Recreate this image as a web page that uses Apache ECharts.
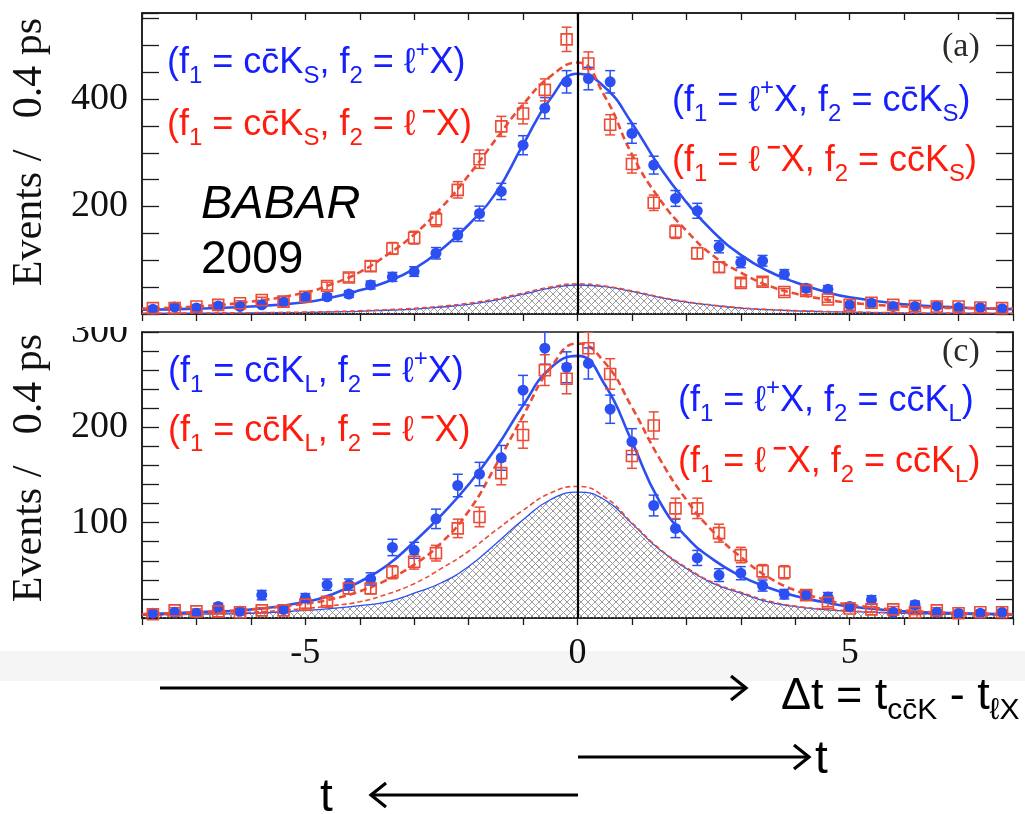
<!DOCTYPE html>
<html><head><meta charset="utf-8">
<script src="https://cdn.jsdelivr.net/npm/echarts@6/dist/echarts.min.js"></script>
<style>html,body{margin:0;padding:0;background:#fff}#c{width:1025px;height:814px}</style>
</head><body><div id="c"></div>
<script>
// ---------- data ----------
const binCenters = [-7.8,-7.4,-7.0,-6.6,-6.2,-5.8,-5.4,-5.0,-4.6,-4.2,-3.8,-3.4,-3.0,-2.6,-2.2,-1.8,-1.4,-1.0,-0.6,-0.2,
                     0.2,0.6,1.0,1.4,1.8,2.2,2.6,3.0,3.4,3.8,4.2,4.6,5.0,5.4,5.8,6.2,6.6,7.0,7.4,7.8];
// panel (a): ccbar K_S
const aBlue    = [9,13,11,15,14,17,22,31,32,37,54,69,79,113,147,187,228,314,383,432, 438,432,336,277,215,192,125,96,99,74,48,46,17,20,14,14,15,12,12,10];
const aBlueErr = [3,3.6,3.3,3.9,3.7,4.1,4.7,5.6,5.7,6.1,7.3,8.3,8.9,10.6,12.1,13.7,15.1,17.7,19.6,20.8, 20.9,20.8,18.3,16.6,14.7,13.9,11.2,9.8,9.9,8.6,6.9,6.8,4.1,4.5,3.7,3.7,3.9,3.5,3.5,3.2];
const aRed     = [11,11,14,17,20,26,23,32,52,68,89,122,142,176,231,288,349,373,417,511, 466,352,279,207,153,113,87,58,60,41,43,27,17,21,17,15,14,14,12,11];
const aRedErr  = [3.3,3.3,3.7,4.1,4.5,5.1,4.8,5.7,7.2,8.2,9.4,11,11.9,13.3,15.2,17,18.7,19.3,20.4,22.6, 21.6,18.8,16.7,14.4,12.4,10.6,9.3,7.6,7.7,6.4,6.6,5.2,4.1,4.6,4.1,3.9,3.7,3.7,3.5,3.3];
const fitX     = [-8,-7,-6,-5,-4.5,-4,-3.5,-3,-2.5,-2,-1.5,-1,-0.5,0,0.5,1,1.5,2,2.5,3,3.5,4,4.5,5,6,7,8];
const aBlueFit = [8,10,14,22,31,44,60,84,120,166,225,315,400,447,422,355,275,208,152,110,80,59,43,31,18,12,9];
const aRedFit  = [10,14,23,40,56,78,110,148,198,258,325,390,442,468,405,297,215,155,108,77,53,38,28,21,14,11,10];
const aBkgBlue = [1,1.5,2,3,4,5,7,9,13,18,26,37,48,54,51,42,31,22,16,11,8,6,4.5,3.5,2,1.5,1];
const aBkgRed  = [1.2,1.8,2.4,3.5,4.5,6,8,10.5,14.5,20,28,39,50,56,52,43,32,23,16.5,11.5,8.5,6.3,4.8,3.7,2.2,1.6,1.1];
// panel (c): ccbar K_L
const cBlue    = [5,6,5,12,7,24,9,21,35,35,41,74,71,104,139,151,168,239,283,263, 267,219,185,118,94,63,45,47,34,25,24,22,12,19,6,14,6,5,5,6];
const cBlueErr = [2.2,2.4,2.2,3.5,2.6,4.9,3,4.6,5.9,5.9,6.4,8.6,8.4,10.2,11.8,12.3,13,15.5,16.8,16.2, 16.3,14.8,13.6,10.9,9.7,7.9,6.7,6.9,5.8,5,4.9,4.7,3.5,4.4,2.4,3.7,2.4,2.2,2.2,2.4];
const cRed     = [4,8,7,7,6,8,8,14,17,31,31,48,59,68,94,106,152,192,260,251, 283,256,170,202,115,115,89,66,49,48,24,16,10,9,9,6,8,5,6,6];
const cRedErr  = [2,2.8,2.6,2.6,2.4,2.8,2.8,3.7,4.1,5.6,5.6,6.9,7.7,8.2,9.7,10.3,12.3,13.9,16.1,15.8, 16.8,16,13,14.2,10.7,10.7,9.4,8.1,7,6.9,4.9,4,3.2,3,3,2.4,2.8,2.2,2.4,2.4];
const cBlueFit = [4,6,9,17,25,38,55,80,108,140,178,223,262,275,245,185,123,85,61,44,32,23,17,12,7,5,4];
const cRedFit  = [4,6,9,15,20,28,40,56,79,112,160,212,262,288,268,221,168,124,90,64,43,29,20,14,8,5,4];
const cBkgBlue = [3,4,5,8,10,13,17,26,37,54,78,103,124,132,124,99,72,52,36,26,17,12,9,7,5,4,3];
const cBkgRed  = [3,4,6,10,13,17,25,36,52,70,92,113,131,138,127,100,73,53,37,27,18,12.5,9.5,7.5,5.2,4,3];
// tick labels
const yTicksA = [200, 400];
const yTicksC = [100, 200, 300];
const xTickLabels = [-5, 0, 5];

// ---------- styles ----------
const SANS = "'Liberation Sans', Arial, 'DejaVu Sans', sans-serif";
const SERIF = "'Liberation Serif', 'Times New Roman', 'DejaVu Serif', serif";
const NARROW = "'Liberation Sans Narrow', 'Liberation Sans', 'DejaVu Sans', sans-serif";
const BLUE_TXT = '#1620ff', RED_TXT = '#ff1c0c';
const BLUE = '#2b4ff0', RED = '#ec4c36';
const AX = '#1a1a1a';

function hatch() {
  const c = document.createElement('canvas'); c.width = 7; c.height = 7;
  const g = c.getContext('2d');
  g.strokeStyle = '#8a8a8a'; g.lineWidth = 0.85;
  g.beginPath(); g.moveTo(0, 0); g.lineTo(7, 7); g.moveTo(7, 0); g.lineTo(0, 7); g.stroke();
  return c;
}
const HATCH = hatch();
const zip = (xs, ys) => xs.map((x, i) => [x, ys[i]]);

function errSeries(xi, yi, vals, errs, color) {
  return {
    type: 'custom', xAxisIndex: xi, yAxisIndex: yi, z: 4, silent: true, clip: true,
    data: binCenters.map((x, i) => [x, vals[i], errs[i]]),
    encode: { x: 0, y: 1 },
    renderItem(params, api) {
      const x = api.value(0), v = api.value(1), e = api.value(2);
      const hi = api.coord([x, v + e]), lo = api.coord([x, v - e]), w = 5;
      const st = { stroke: color, lineWidth: 1.5 };
      return { type: 'group', children: [
        { type: 'line', shape: { x1: hi[0], y1: hi[1], x2: lo[0], y2: lo[1] }, style: st },
        { type: 'line', shape: { x1: hi[0] - w, y1: hi[1], x2: hi[0] + w, y2: hi[1] }, style: st },
        { type: 'line', shape: { x1: lo[0] - w, y1: lo[1], x2: lo[0] + w, y2: lo[1] }, style: st }
      ]};
    }
  };
}
function panelSeries(xi, yi, blue, blueErr, red, redErr, blueFit, redFit, bkgB, bkgR) {
  return [
    { type: 'line', xAxisIndex: xi, yAxisIndex: yi, data: zip(fitX, bkgB), smooth: 0.5,
      symbol: 'none', z: 1, silent: true, lineStyle: { color: BLUE, width: 1.3 },
      areaStyle: { color: { image: HATCH, repeat: 'repeat' }, opacity: 1 } },
    { type: 'line', xAxisIndex: xi, yAxisIndex: yi, data: zip(fitX, bkgR), smooth: 0.5,
      symbol: 'none', z: 2, silent: true, lineStyle: { color: RED, width: 1.6, type: [5, 3] } },
    { type: 'line', xAxisIndex: xi, yAxisIndex: yi, data: zip(fitX, blueFit), smooth: 0.5,
      symbol: 'none', z: 3, silent: true, lineStyle: { color: BLUE, width: 2.6 },
      markLine: { silent: true, symbol: 'none', label: { show: false },
        lineStyle: { color: '#000', width: 2.2, type: 'solid' }, data: [{ xAxis: 0 }] } },
    { type: 'line', xAxisIndex: xi, yAxisIndex: yi, data: zip(fitX, redFit), smooth: 0.5,
      symbol: 'none', z: 3, silent: true, lineStyle: { color: RED, width: 2.6, type: [7, 4] } },
    errSeries(xi, yi, blue, blueErr, BLUE),
    errSeries(xi, yi, red, redErr, RED),
    { type: 'scatter', xAxisIndex: xi, yAxisIndex: yi, data: zip(binCenters, blue), symbol: 'circle', symbolSize: 11,
      z: 5, silent: true, itemStyle: { color: BLUE, opacity: 1 } },
    { type: 'scatter', xAxisIndex: xi, yAxisIndex: yi, data: zip(binCenters, red), symbol: 'rect', symbolSize: 11,
      z: 5, silent: true, itemStyle: { color: 'rgba(255,255,255,0)', borderColor: RED, borderWidth: 1.6, opacity: 1 } }
  ];
}

function xAx(grid, pos, inside, labels) {
  return { type: 'value', gridIndex: grid, position: pos, min: -8, max: 8, interval: 1,
    axisLine: { show: true, onZero: false, lineStyle: { color: AX, width: 1.5 } },
    axisTick: { show: true, inside: inside, length: 7, lineStyle: { color: AX, width: 1.3 } },
    axisLabel: labels ? { show: true, margin: 18, fontFamily: SERIF, fontSize: 36, color: '#111',
      formatter: v => xTickLabels.includes(v) ? String(v) : '' } : { show: false },
    splitLine: { show: false } };
}
function yAx(grid, pos, max, interval, labels) {
  return { type: 'value', gridIndex: grid, position: pos, min: 0, max: max, interval: interval,
    axisLine: { show: true, onZero: false, lineStyle: { color: AX, width: 1.5 } },
    axisTick: { show: true, inside: true, length: 17, lineStyle: { color: AX, width: 1.3 } },
    axisLabel: labels ? { show: true, margin: 14, fontFamily: SERIF, fontSize: 38, color: '#111',
      formatter: v => labels.includes(v) ? String(v) : '' } : { show: false },
    splitLine: { show: false } };
}

function rich(color, size) {
  const sub = Math.round(size * 0.68);
  return {
    m: { fontSize: size, fontFamily: SANS, fill: color, lineHeight: size + 14, verticalAlign: 'middle' },
    s: { fontSize: sub, fontFamily: SANS, fill: color, lineHeight: sub, verticalAlign: 'bottom' },
    p: { fontSize: sub, fontFamily: SANS, fill: color, lineHeight: size + 2, verticalAlign: 'top' },
    q: { fontSize: sub, fontFamily: SANS, fontWeight: 'bold', fill: color, lineHeight: 12, verticalAlign: 'top' }
  };
}
function label(x, y, text, color, size) {
  return { type: 'text', x: x, y: y, z: 50,
    style: { text: text, rich: rich(color, size), align: 'left', verticalAlign: 'middle' } };
}
const CB = 'c\u0304';
const FS = 36;
const annotations = [
  label(167, 63,  `{m|(f}{s|1}{m| = c${CB}K}{s|S}{m|, f}{s|2}{m| = ℓ}{p|+}{m|X)}`, BLUE_TXT, FS),
  label(167, 125, `{m|(f}{s|1}{m| = c${CB}K}{s|S}{m|, f}{s|2}{m| = ℓ}{q| −}{m|X)}`, RED_TXT, FS),
  label(672, 101, `{m|(f}{s|1}{m| = ℓ}{p|+}{m|X, f}{s|2}{m| = c${CB}K}{s|S}{m|)}`, BLUE_TXT, FS),
  label(672, 161, `{m|(f}{s|1}{m| = ℓ}{q| −}{m|X, f}{s|2}{m| = c${CB}K}{s|S}{m|)}`, RED_TXT, FS),
  label(168, 372, `{m|(f}{s|1}{m| = c${CB}K}{s|L}{m|, f}{s|2}{m| = ℓ}{p|+}{m|X)}`, BLUE_TXT, FS),
  label(168, 431, `{m|(f}{s|1}{m| = c${CB}K}{s|L}{m|, f}{s|2}{m| = ℓ}{q| −}{m|X)}`, RED_TXT, FS),
  label(678, 401, `{m|(f}{s|1}{m| = ℓ}{p|+}{m|X, f}{s|2}{m| = c${CB}K}{s|L}{m|)}`, BLUE_TXT, FS),
  label(678, 462, `{m|(f}{s|1}{m| = ℓ}{q| −}{m|X, f}{s|2}{m| = c${CB}K}{s|L}{m|)}`, RED_TXT, FS),
  { type: 'text', x: 201, y: 205, z: 50, style: { text: 'BABAR', font: `italic 47px ${SANS}`, fill: '#000', align: 'left', verticalAlign: 'middle' } },
  { type: 'text', x: 201, y: 260, z: 50, style: { text: '2009', font: `46px ${SANS}`, fill: '#000', align: 'left', verticalAlign: 'middle' } },
  { type: 'text', x: 942, y: 47, z: 50, style: { text: '(a)', font: `34px ${SERIF}`, fill: '#2e2a26', align: 'left', verticalAlign: 'middle' } },
  { type: 'text', x: 942, y: 352, z: 50, style: { text: '(c)', font: `34px ${SERIF}`, fill: '#2e2a26', align: 'left', verticalAlign: 'middle' } },
  { type: 'text', x: 30, y: 152, rotation: Math.PI / 2, z: 50, style: { text: 'Events /   0.4 ps', font: `42px ${SERIF}`, fill: '#111', align: 'center', verticalAlign: 'middle' } },
  { type: 'text', x: 30, y: 468, rotation: Math.PI / 2, z: 50, style: { text: 'Events /   0.4 ps', font: `42px ${SERIF}`, fill: '#111', align: 'center', verticalAlign: 'middle' } },
  // mimic clipped "300"
  { type: 'rect', z: 60, shape: { x: 50, y: 300, width: 88, height: 27 }, style: { fill: '#fff' } },
  // light band behind x labels
  { type: 'rect', z: -10, shape: { x: 0, y: 651, width: 1025, height: 30 }, style: { fill: '#f5f5f5' } },
  // arrows
  { type: 'line', z: 50, shape: { x1: 160, y1: 688, x2: 745, y2: 688 }, style: { stroke: '#000', lineWidth: 3.2 } },
  { type: 'polyline', z: 50, shape: { points: [[731, 676], [746, 688], [731, 700]] }, style: { stroke: '#000', lineWidth: 3.2, fill: null } },
  { type: 'line', z: 50, shape: { x1: 578, y1: 757, x2: 808, y2: 757 }, style: { stroke: '#000', lineWidth: 3.2 } },
  { type: 'polyline', z: 50, shape: { points: [[794, 745], [809, 757], [794, 769]] }, style: { stroke: '#000', lineWidth: 3.2, fill: null } },
  { type: 'line', z: 50, shape: { x1: 578, y1: 795, x2: 372, y2: 795 }, style: { stroke: '#000', lineWidth: 3.2 } },
  { type: 'polyline', z: 50, shape: { points: [[386, 783], [371, 795], [386, 807]] }, style: { stroke: '#000', lineWidth: 3.2, fill: null } },
  { type: 'text', x: 781, y: 697, z: 50, style: { text: '{m|Δt = t}{s|c' + CB + 'K}{m| - t}{s|ℓX}', align: 'left', verticalAlign: 'middle',
      rich: { m: { fontSize: 45, fontFamily: NARROW, fill: '#000', lineHeight: 57, verticalAlign: 'middle' },
              s: { fontSize: 30, fontFamily: NARROW, fill: '#000', lineHeight: 30, verticalAlign: 'bottom' } } } },
  { type: 'text', x: 815, y: 760, z: 50, style: { text: 't', font: `46px ${NARROW}`, fill: '#000', align: 'left', verticalAlign: 'middle' } },
  { type: 'text', x: 320, y: 798, z: 50, style: { text: 't', font: `46px ${NARROW}`, fill: '#000', align: 'left', verticalAlign: 'middle' } }
];

const chart = echarts.init(document.getElementById('c'), null, { renderer: 'canvas' });
chart.setOption({
  animation: false,
  backgroundColor: '#fff',
  grid: [
    { left: 142, top: 13, width: 871, height: 301, show: true, borderColor: AX, borderWidth: 1.5, backgroundColor: 'transparent', containLabel: false },
    { left: 142, top: 332, width: 871, height: 286, show: true, borderColor: AX, borderWidth: 1.5, backgroundColor: 'transparent', containLabel: false }
  ],
  xAxis: [ xAx(0, 'bottom', false, false), xAx(0, 'top', true, false), xAx(1, 'bottom', false, true) ],
  yAxis: [ yAx(0, 'left', 560, 50, yTicksA), yAx(0, 'right', 560, 50, null),
           yAx(1, 'left', 300, 20, yTicksC), yAx(1, 'right', 300, 20, null) ],
  series: [
    ...panelSeries(0, 0, aBlue, aBlueErr, aRed, aRedErr, aBlueFit, aRedFit, aBkgBlue, aBkgRed),
    ...panelSeries(2, 2, cBlue, cBlueErr, cRed, cRedErr, cBlueFit, cRedFit, cBkgBlue, cBkgRed)
  ],
  graphic: { elements: annotations }
});
</script>
</body></html>
